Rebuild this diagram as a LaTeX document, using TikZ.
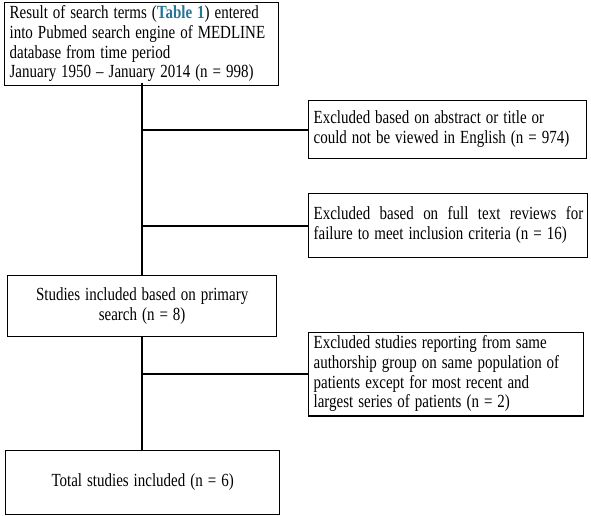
\documentclass[tikz,border=0pt]{standalone}
\usepackage{fontspec}
\usepackage{graphicx}
\setmainfont{Liberation Serif}
\definecolor{tablink}{RGB}{40,118,150}
\newcommand{\sqz}[2]{\scalebox{0.81}[1]{\begin{tabular}{@{}#1@{}}#2\end{tabular}}}
\begin{document}
\begin{tikzpicture}[x=1pt,y=-1pt,
  box/.style={draw=black,line width=1.3pt,rectangle,inner xsep=5pt,inner ysep=2pt,
    font=\fontsize{18.5}{19.8}\selectfont,anchor=north west},
  conn/.style={draw=black,line width=2pt}]
\useasboundingbox (0,0) rectangle (591,516);
\node[box,minimum width=274pt,minimum height=81pt,text width=264pt,align=left] (b1) at (4,2)
  {\raisebox{-3pt}{\sqz{l}{Result of search terms (\textcolor{tablink}{\textbf{Table 1}}) entered\\into Pubmed search engine of MEDLINE\\database from time period\\January 1950 -- January 2014 (n = 998)}}};
\node[box,minimum width=278pt,minimum height=58pt,text width=268pt,align=left] (b2) at (308,100)
  {\sqz{l}{Excluded based on abstract or title or\\could not be viewed in English (n = 974)}};
\node[box,minimum width=279pt,minimum height=64pt,text width=269pt,align=left] (b3) at (308,193)
  {\sqz{l}{\hbox to 333pt{Excluded\hfill based\hfill on\hfill full\hfill text\hfill reviews\hfill for}\\failure to meet inclusion criteria (n = 16)}};
\node[box,minimum width=269pt,minimum height=61pt,text width=259pt,align=center] (b4) at (7,275)
  {\sqz{c}{Studies included based on primary\\search (n = 8)}};
\node[box,minimum width=275pt,minimum height=76pt,text width=265pt,align=left] (b5) at (308,332)
  {\sqz{l}{Excluded studies reporting from same\\authorship group on same population of\\patients except for most recent and\\largest series of patients (n = 2)}};
\node[box,minimum width=274pt,minimum height=64pt,text width=264pt,align=center] (b6) at (5,450)
  {\sqz{c}{Total studies included (n = 6)}};
\coordinate (t1) at (142,83);
\draw[conn] (t1) -- (t1 |- b4.north);
\draw[conn] (t1 |- b4.south) -- (t1 |- b6.north);
\draw[conn] (t1 |- b2.west) -- (b2.west);
\draw[conn] (t1 |- b3.west) -- (b3.west);
\draw[conn] (t1 |- b5.west) -- (b5.west);
\end{tikzpicture}
\end{document}
